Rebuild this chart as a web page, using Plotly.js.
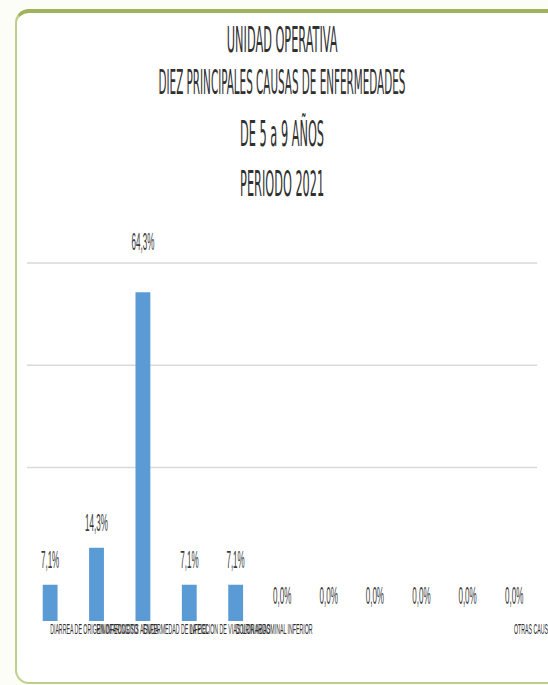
<!DOCTYPE html>
<html>
<head>
<meta charset="utf-8">
<script src="https://cdn.plot.ly/plotly-3.0.1.min.js"></script>
<style>
  html, body { margin: 0; padding: 0; background: #fdfdf8; overflow: hidden; }
  #wrap { position: relative; width: 548px; height: 685px; overflow: hidden; }
  #frame { position: absolute; left: 15px; top: 9px; width: 580px; height: 675px;
           background: #ffffff; border: 2px solid #bcd08a; border-top: 4px solid #9db35c;
           border-radius: 14px; box-sizing: border-box; }
  #chart { position: absolute; left: 0; top: 0; width: 1566px; height: 685px;
           transform: scaleX(0.349936); transform-origin: 0 0; }
</style>
</head>
<body>
<div id="wrap">
  <div id="frame"></div>
  <div id="chart"></div>
</div>
<script>
// ---- data ----
const titleLines = ["UNIDAD OPERATIVA", "DIEZ PRINCIPALES CAUSAS DE ENFERMEDADES", "DE 5 a 9 AÑOS", "PERIODO 2021"];
const categories = ["DIARREA DE ORIGEN INFECCIOSO", "RINOFARINGITIS AGUDA", "ENFERMEDAD DE LA PIEL", "INFECCION DE VIAS URINARIAS", "DOLOR ABDOMINAL INFERIOR", "", "", "", "", "", "OTRAS CAUSAS"];
const percentages = [7.1, 14.3, 64.3, 7.1, 7.1, 0.0, 0.0, 0.0, 0.0, 0.0, 0.0];

// ---- geometry (unscaled svg space) ----
const S = 548 / 1566;
const W = 1566, H = 685;
const plotTop = 262, plotBottom = 621;
const yMax = 70.2;
const positions = categories.map((c, i) => i + 1);
const fmt = v => v.toFixed(1).replace('.', ',') + '%';
const toPaperY = py => (plotBottom - py) / (plotBottom - plotTop);
const titleY = [39, 82, 133, 183];
const titleSizes = [36, 33, 36, 36];
const maxVal = Math.max(...percentages);

const annotations = [];
titleLines.forEach((t, i) => {
  annotations.push({
    xref: 'paper', yref: 'paper', x: 0.5, y: toPaperY(titleY[i]),
    xanchor: 'center', yanchor: 'middle', text: t, showarrow: false,
    font: { family: 'Liberation Sans Narrow, Arial Narrow, DejaVu Sans Condensed, sans-serif', size: titleSizes[i], color: '#303030' }
  });
});
percentages.forEach((v, i) => {
  annotations.push({
    xref: 'x', yref: 'y', x: positions[i], y: v, text: fmt(v), showarrow: false,
    xanchor: 'center', yanchor: 'middle', yshift: v === maxVal ? 50 : 25,
    font: { family: 'Liberation Sans, Arial, sans-serif', size: 23, color: '#3a3a3a' }
  });
});

const trace = {
  type: 'bar', x: positions, y: percentages, width: 0.32,
  marker: { color: '#5b9bd5' }, hoverinfo: 'skip'
};

const layout = {
  width: W, height: H,
  margin: { l: 27 / S, r: W - 537 / S, t: plotTop, b: H - plotBottom, pad: 0 },
  paper_bgcolor: 'rgba(0,0,0,0)', plot_bgcolor: 'rgba(0,0,0,0)',
  showlegend: false,
  xaxis: {
    range: [0.5, categories.length + 0.5], tickmode: 'array', tickvals: positions, ticktext: categories,
    tickangle: 0, showgrid: false, zeroline: false, showline: false, ticks: '',
    ticklabelposition: 'outside right', ticklabeloverflow: 'allow', ticklabelstandoff: -3,
    tickfont: { family: 'Liberation Sans, Arial, sans-serif', size: 15, color: '#2e2e2e' }
  },
  yaxis: {
    range: [0, yMax], tickmode: 'array', tickvals: [30, 50, 70], showticklabels: false,
    showgrid: true, gridcolor: '#d9d9d9', gridwidth: 1.5, zeroline: false, showline: false
  },
  annotations: annotations
};

Plotly.newPlot('chart', [trace], layout, { staticPlot: true, displayModeBar: false });
</script>
</body>
</html>
